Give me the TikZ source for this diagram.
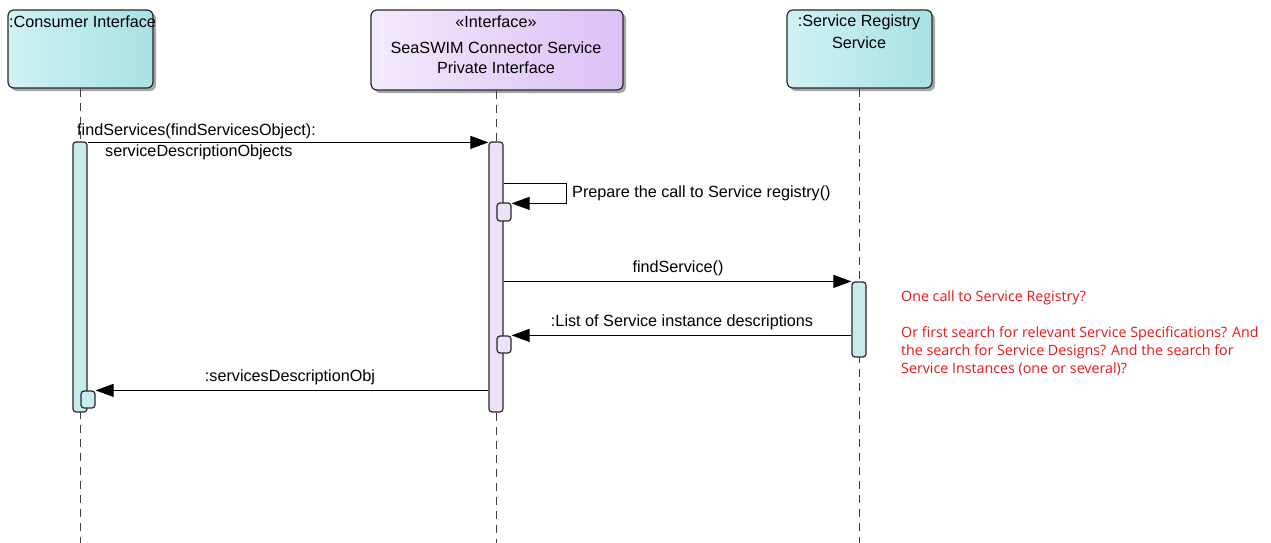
\documentclass[tikz,border=0pt]{standalone}
\usepackage{fontspec}
\setmainfont{Liberation Sans}
\newfontfamily\notefont{Open Sans}
\usetikzlibrary{arrows.meta,shadows}

\definecolor{cyL}{RGB}{208,241,243}
\definecolor{cyR}{RGB}{168,226,228}
\definecolor{puL}{RGB}{243,234,252}
\definecolor{puR}{RGB}{220,192,246}
\definecolor{cyAct}{RGB}{200,236,238}
\definecolor{puAct}{RGB}{238,226,250}
\definecolor{edge}{RGB}{40,40,40}
\definecolor{notered}{RGB}{240,20,20}

\tikzset{
  every node/.style={font=\fontsize{16.2}{19}\selectfont, inner sep=0pt},
  hdrbox/.style={draw=edge, line width=1.2pt, rounded corners=6pt,
    drop shadow={shadow xshift=3pt, shadow yshift=-3pt, fill=black!35, opacity=1}},
  cyanbox/.style={hdrbox, left color=cyL, right color=cyR},
  purbox/.style={hdrbox, left color=puL, right color=puR},
  lifeline/.style={draw=black!75, line width=0.9pt, dash pattern=on 8pt off 6pt},
  actbar/.style={draw=edge, line width=1.2pt, rounded corners=3pt, minimum width=14pt},
  cyact/.style={actbar, fill=cyAct},
  puact/.style={actbar, fill=puAct},
  msg/.style={draw=black, line width=1pt, -{Triangle[length=18pt,width=13pt]}},
  msglabel/.style={fill=white, inner sep=1pt},
  note/.style={font=\notefont\fontsize{14.25}{18}\selectfont, text=notered, align=left, anchor=north west}
}

\begin{document}
\begin{tikzpicture}[x=1pt,y=-1pt]
\useasboundingbox[fill=white] (0,0) rectangle (1271,543);

% lifeline heads
\node[cyanbox, minimum width=145pt, minimum height=78pt] (cons) at (80.5,49) {};
\node[purbox, minimum width=252pt, minimum height=80pt] (intf) at (497,50) {};
\node[cyanbox, minimum width=145pt, minimum height=78pt] (reg) at (859.5,49) {};

\node[anchor=west] (consT) at (9,22) {:Consumer Interface};
\node (intfS) at (496,22) {«Interface»};
\node (intfT1) at (496,48) {SeaSWIM Connector Service};
\node (intfT2) at (496,68) {Private Interface};
\node (regT1) at (859,22) {:Service Registry};
\node (regT2) at (859,43) {Service};

% dashed lifelines
\draw[lifeline] (cons.south -| 80,0) -- (80,543);
\draw[lifeline] (intf.south -| 496,0) -- (496,543);
\draw[lifeline] (reg.south -| 859,0) -- (859,543);

% activation bars
\node[cyact, minimum height=270pt] (consA) at (80,277) {};
\node[puact, minimum height=270pt] (intA) at (496,277) {};
\node[cyact, minimum height=75pt] (regA) at (859,319.5) {};
\node[puact, minimum height=18pt] (intS1) at (504,212) {};
\node[puact, minimum height=17pt] (intS2) at (504,344.5) {};
\node[cyact, minimum height=17pt] (consS) at (88,399.5) {};

% findServices call
\draw[msg] ([yshift=-1pt]consA.north east) -- ([yshift=-1pt]intA.north west);
\node[anchor=west] (m1a) at (77,131) {findServices(findServicesObject):};
\node[anchor=west, msglabel] (m1b) at (104,152) {serviceDescriptionObjects};

% self call
\coordinate (sc) at (566,183);
\draw[msg] (intA.east |- sc) -- (sc) |- ([yshift=-1pt]intS1.north east);
\node[anchor=west] (m2) at (572,193) {Prepare the call to Service registry()};

% findService call
\draw[msg] (intA.east |- regA.north) -- (regA.north west);
\node (m3) at (678,268) {findService()};

% registry reply
\draw[msg] (regA.west |- intS2.north) -- (intS2.north east);
\node (m4) at (682,322) {:List of Service instance descriptions};

% reply to consumer
\draw[msg] (intA.west |- consS.north) -- (consS.north east);
\node (m5) at (290,377) {:servicesDescriptionObj};

% note
\node[note] (remark) at (901,290) {One call to Service Registry?\\[18pt]
Or first search for relevant Service Specifications? And\\
the search for Service Designs? And the search for\\
Service Instances (one or several)?};
\end{tikzpicture}
\end{document}
